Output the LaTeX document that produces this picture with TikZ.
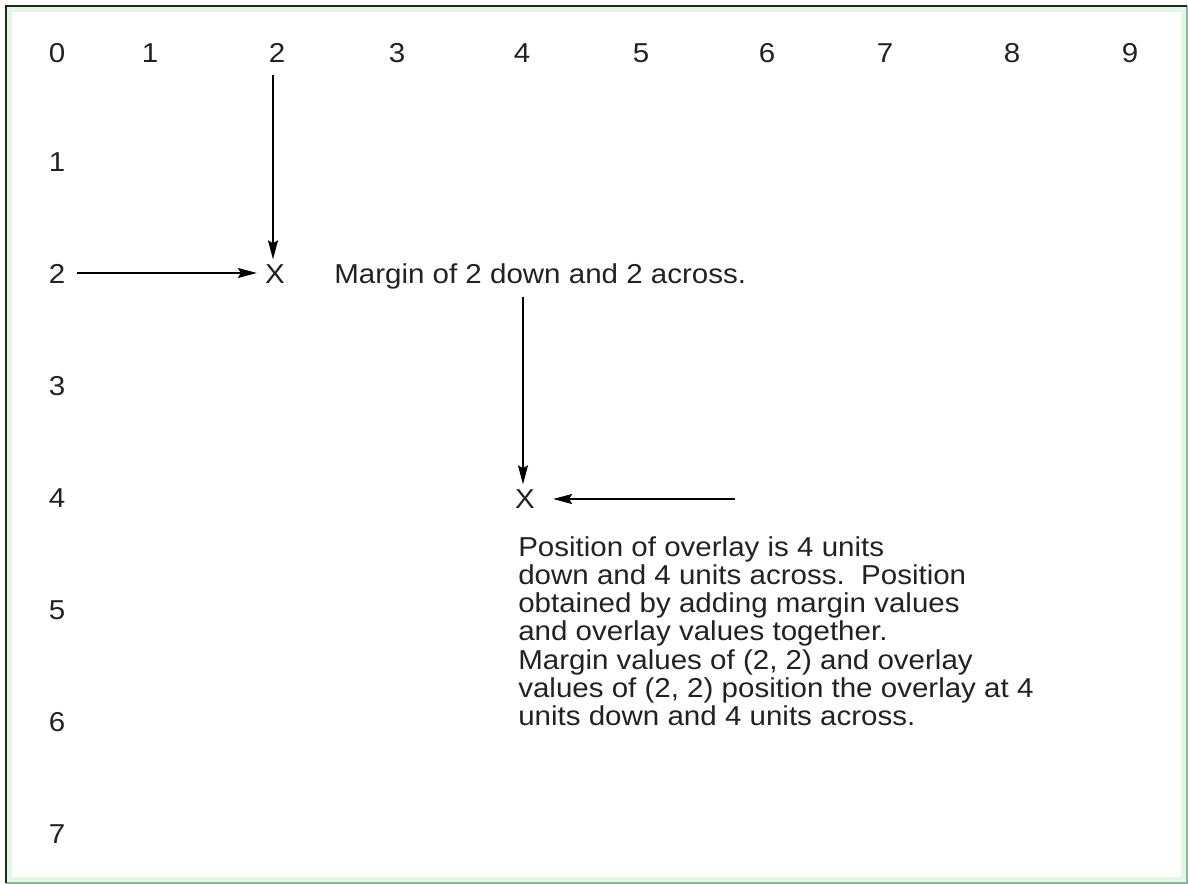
\documentclass[tikz,border=0pt]{standalone}
\usepackage{fontspec}
\setmainfont{Liberation Sans}[FakeStretch=1.08]
\usetikzlibrary{arrows.meta}
\definecolor{ink}{HTML}{222222}
\definecolor{mint}{HTML}{E3F6E8}
\definecolor{edgegreen}{HTML}{8FB39A}
\tikzset{
  every node/.style={text=ink, font=\fontsize{20.5}{24}\selectfont},
  lbl/.style={anchor=center, inner sep=0pt},
  xmark/.style={anchor=center, inner sep=3.75pt},
  txt/.style={anchor=base west, inner sep=0pt},
  arr/.style={draw=black, line width=1.2pt, -{Stealth[length=14.25pt,width=7.5pt,inset=2.25pt]}}
}
\begin{document}
\begin{tikzpicture}[x=0.75pt,y=-0.75pt]
\useasboundingbox (0,0) rectangle (1188,884);
% frame
\fill[mint] (6,6) rectangle (1187,883);
\fill[white] (12,12) rectangle (1181,877);
\draw[edgegreen, line width=1.1pt] (6,883) -- (1187,883) -- (1187,6);
\draw[black!85, line width=1.65pt] (6,883) -- (6,6) -- (1187,6);
% column labels
\node[lbl] (c0) at (57,53) {0};
\node[lbl] (c1) at (150,53) {1};
\node[lbl] (c2) at (277,53) {2};
\node[lbl] (c3) at (397,53) {3};
\node[lbl] (c4) at (522,53) {4};
\node[lbl] (c5) at (641,53) {5};
\node[lbl] (c6) at (767,53) {6};
\node[lbl] (c7) at (885,53) {7};
\node[lbl] (c8) at (1012,53) {8};
\node[lbl] (c9) at (1130,53) {9};
% row labels
\node[lbl] (r1) at (57,162) {1};
\node[lbl] (r2) at (57,274) {2};
\node[lbl] (r3) at (57,386) {3};
\node[lbl] (r4) at (57,498) {4};
\node[lbl] (r5) at (57,610) {5};
\node[lbl] (r6) at (57,722) {6};
\node[lbl] (r7) at (57,834) {7};
% marks
\node[xmark] (x1) at (275,274) {X};
\node[xmark] (x2) at (525,499) {X};
% texts
\node[txt] (t1) at (334,283) {Margin of 2 down and 2 across.};
\node[txt] (p1) at (518,556) {Position of overlay is 4 units};
\node[txt] (p2) at (518,584.3) {down and 4 units across.\ \ Position};
\node[txt] (p3) at (518,612.6) {obtained by adding margin values};
\node[txt] (p4) at (518,640.9) {and overlay values together.};
\node[txt] (p5) at (518,669.2) {Margin values of (2, 2) and overlay};
\node[txt] (p6) at (518,697.5) {values of (2, 2) position the overlay at 4};
\node[txt] (p7) at (518,725.8) {units down and 4 units across.};
% arrow start points
\coordinate (s1) at (273,75);
\coordinate (s2) at (77,273);
\coordinate (s3) at (523,297);
\coordinate (s4) at (735,499);
% arrows
\draw[arr] (s1) -- (s1 |- x1.north);
\draw[arr, shorten >=2.25pt] (s2) -- (s2 -| x1.west);
\draw[arr] (s3) -- (s3 |- x2.north);
\draw[arr, shorten >=9.75pt] (s4) -- (s4 -| x2.east);
\end{tikzpicture}
\end{document}
